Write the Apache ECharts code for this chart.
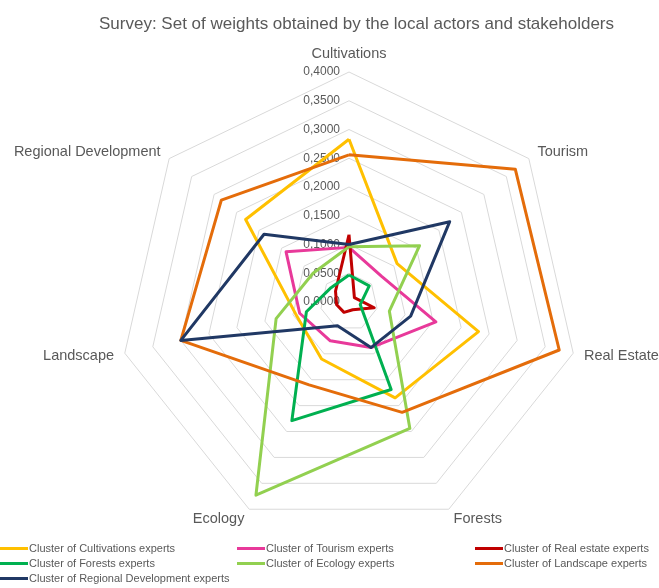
<!DOCTYPE html>
<html><head><meta charset="utf-8">
<script src="https://cdn.jsdelivr.net/npm/echarts@6/dist/echarts.min.js"></script>
<style>html,body{margin:0;padding:0;background:#fff}#c{width:659px;height:588px}</style>
</head><body><div id="c"></div>
<script>
// Indicators in the reference's clockwise order, starting at the top
const indicators = ['Cultivations','Tourism','Real Estate','Forests','Ecology','Landscape','Regional Development'];
const tickValues = [0,0.05,0.1,0.15,0.2,0.25,0.3,0.35,0.4];
const seriesNames = ['Cluster of Cultivations experts','Cluster of Tourism experts','Cluster of Real estate experts','Cluster of Forests experts','Cluster of Ecology experts','Cluster of Landscape experts','Cluster of Regional Development experts'];
const cultivationsExperts = [0.283,0.107,0.231,0.185,0.110,0.095,0.230];
const tourismExperts      = [0.095,0.072,0.155,0.088,0.075,0.088,0.140];
const realEstateExperts   = [0.117,0.012,0.045,0.015,0.020,0.022,0.030];
const forestsExperts      = [0.047,0.045,0.020,0.169,0.229,0.076,0.040];
const ecologyExperts      = [0.096,0.157,0.072,0.244,0.373,0.130,0.080];
const landscapeExperts    = [0.256,0.370,0.375,0.213,0.160,0.300,0.284];
const regionalExperts     = [0.100,0.224,0.110,0.088,0.046,0.300,0.189];
const colors = ['#FFC000','#E8399A','#C00000','#00B050','#92D050','#E46C0A','#203864'];

const allValues = [cultivationsExperts,tourismExperts,realEstateExperts,forestsExperts,ecologyExperts,landscapeExperts,regionalExperts];
// ECharts lays radar indicators counter-clockwise: keep first, reverse the rest
const order = [0,6,5,4,3,2,1];
const fmt = v => v.toFixed(4).replace('.',',');
const font = "'Liberation Sans', Arial, sans-serif";
const grey = '#595959';

const chart = echarts.init(document.getElementById('c'), null, {renderer:'canvas'});
const series = allValues.map((vals,i)=>({
  type:'radar', name: seriesNames[i], symbol:'none', z: 2+i,
  lineStyle:{width:3,color:colors[i]}, itemStyle:{color:colors[i]},
  data:[{name: seriesNames[i], value: order.map(k=>vals[k])}]
}));
const legendStyle = {orient:'vertical', icon:'rect', itemWidth:28, itemHeight:3, itemGap:4,
  textStyle:{fontFamily:font,fontSize:11,color:grey,padding:[0,0,0,-4]}, padding:0, selectedMode:false};
chart.setOption({
  animation:false,
  title:{text:'Survey: Set of weights obtained by the local actors and stakeholders', left:94, top:11,
    textStyle:{fontFamily:font,fontSize:17,fontWeight:'normal',color:grey}},
  legend:[
    Object.assign({left:0, top:543, data:[seriesNames[0],seriesNames[3],seriesNames[6]]}, legendStyle),
    Object.assign({left:237, top:543, data:[seriesNames[1],seriesNames[4]]}, legendStyle),
    Object.assign({left:475, top:543, data:[seriesNames[2],seriesNames[5]]}, legendStyle)
  ],
  radar:{
    center:[349,302], radius:230, startAngle:90, shape:'polygon', splitNumber:8,
    indicator: order.map(k=>({name:indicators[k], min:0, max:0.4})),
    axisName:{color:grey,fontFamily:font,fontSize:14.5},
    nameGap:11,
    axisLine:{show:false}, axisTick:{show:false}, axisLabel:{show:false},
    splitArea:{show:false},
    splitLine:{lineStyle:{color:'#d9d9d9',width:1}}
  },
  grid:{left:349, top:72, width:1, height:230},
  xAxis:{type:'value', show:false},
  yAxis:{type:'value', min:tickValues[0], max:tickValues[tickValues.length-1], interval:0.05,
    axisLine:{show:false}, axisTick:{show:false}, splitLine:{show:false},
    axisLabel:{formatter:fmt, color:grey, fontFamily:font, fontSize:12, margin:9}},
  series: series
});
</script></body></html>
